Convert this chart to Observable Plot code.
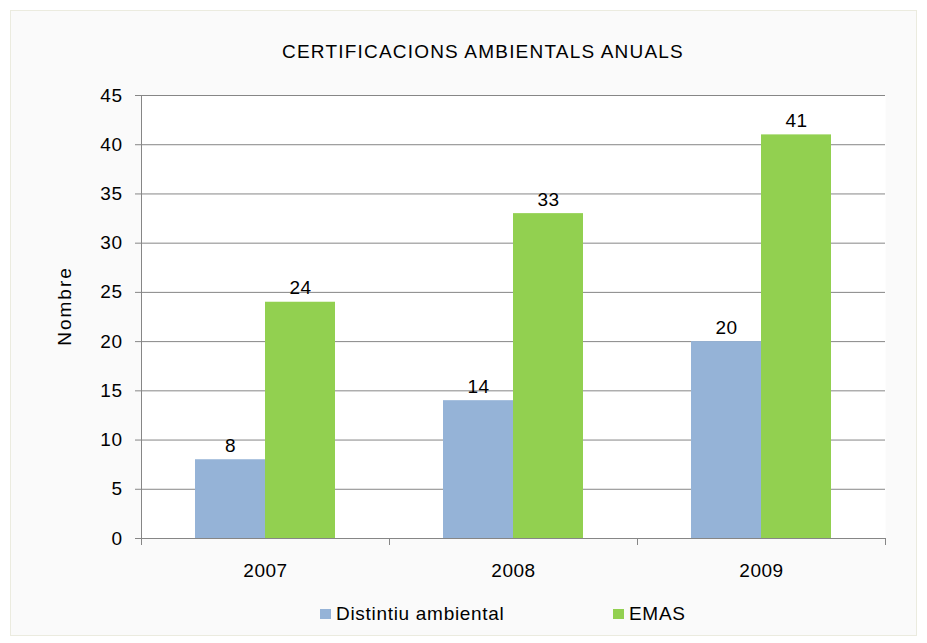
<!DOCTYPE html>
<html><head><meta charset="utf-8">
<script src="https://cdn.jsdelivr.net/npm/d3@7"></script>
<script src="https://cdn.jsdelivr.net/npm/@observablehq/plot@0.6"></script>
<style>
body{margin:0;background:#fff;font-family:"Liberation Sans",Arial,sans-serif;color:#000;}
#frame{position:absolute;left:10px;top:10px;width:905px;height:624px;border:1px solid #ebebdf;background:#fafafa;}
#chart{position:absolute;left:0;top:0;}
#title{position:absolute;top:42px;left:0;width:966px;text-align:center;font-size:19px;line-height:20px;letter-spacing:1.2px;white-space:nowrap;}
#ylabel{position:absolute;left:65px;top:306px;transform:translate(-50%,-50%) rotate(-90deg);font-size:19px;line-height:20px;letter-spacing:2px;white-space:nowrap;}
.leg{position:absolute;top:604px;font-size:19px;line-height:20px;letter-spacing:0.7px;white-space:nowrap;}
.sw{position:absolute;left:0;top:5px;width:11px;height:10px;}
.lt{position:absolute;left:16px;top:0;}
</style>
</head><body>
<div id="frame"></div>
<div id="chart"></div>
<div id="title">CERTIFICACIONS AMBIENTALS ANUALS</div>
<div id="ylabel">Nombre</div>
<div id="legend"></div>
<script>
const years = ["2007", "2008", "2009"];
const seriesNames = ["Distintiu ambiental", "EMAS"];
const distintiu = [8, 14, 20];
const emas = [24, 33, 41];
const colors = ["#95B3D7", "#92D050"];
const yTicks = [0, 5, 10, 15, 20, 25, 30, 35, 40, 45];

const data = years.flatMap((yr, i) => [
  {year: yr, series: seriesNames[0], value: distintiu[i]},
  {year: yr, series: seriesNames[1], value: emas[i]}
]);

const gray = "#868686";
const chart = Plot.plot({
  width: 927, height: 643,
  marginLeft: 140, marginRight: 41, marginTop: 95, marginBottom: 105,
  style: {background: "transparent", fontFamily: "'Liberation Sans', Arial, sans-serif", fontSize: "19px", letterSpacing: "0.5px", color: "#000"},
  fx: {domain: years, padding: 0, label: null},
  x: {domain: seriesNames, paddingInner: 0, paddingOuter: 0.75, axis: null},
  y: {domain: [0, 45], label: null},
  color: {domain: seriesNames, range: colors},
  marks: [
    Plot.frame({fill: "white", stroke: "none", facet: "super"}),
    Plot.gridY(yTicks, {stroke: gray, strokeOpacity: 1}),
    Plot.barY(data, {fx: "year", x: "series", y: "value", fill: "series"}),
    Plot.text(data, {fx: "year", x: "series", y: "value", text: d => String(d.value), lineAnchor: "bottom", dy: -8, fontSize: 19, fill: "#000"}),
    Plot.ruleY([0], {stroke: gray}),
    Plot.axisY(yTicks, {tickSize: 6, tickPadding: 13, label: null, stroke: gray, fill: "#000", fontSize: 19}),
    Plot.axisFx({anchor: "bottom", tickSize: 0, tickPadding: 25, label: null, fontSize: 19, fill: "#000"}),
    Plot.frame({anchor: "left", facet: "super", stroke: gray}),
    Plot.frame({anchor: "left", insetTop: 443, insetBottom: -6, stroke: gray}),
    Plot.frame({anchor: "right", insetTop: 443, insetBottom: -6, stroke: gray})
  ]
});
document.getElementById("chart").appendChild(chart);

const legend = document.getElementById("legend");
const legX = [320, 613];
seriesNames.forEach((s, i) => {
  const el = document.createElement("div");
  el.className = "leg";
  el.style.left = legX[i] + "px";
  el.innerHTML = `<span class="sw" style="background:${colors[i]}"></span><span class="lt">${s}</span>`;
  legend.appendChild(el);
});
</script>
</body></html>
